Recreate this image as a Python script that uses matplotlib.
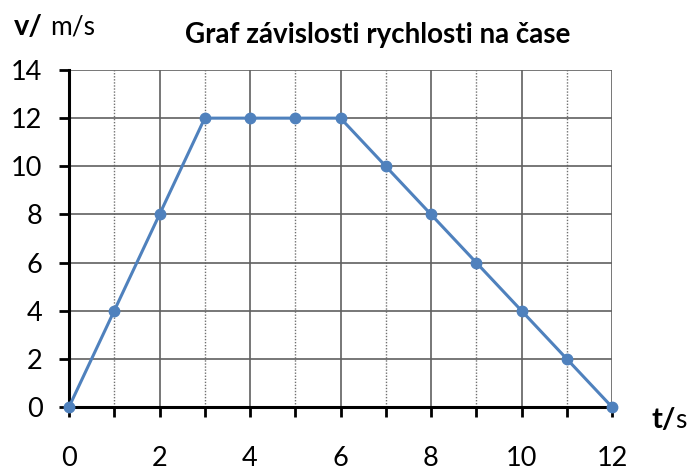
import matplotlib.pyplot as plt
from matplotlib.ticker import MultipleLocator

plt.rcParams["font.family"] = ["Lato", "DejaVu Sans"]

t = [0, 1, 2, 3, 4, 5, 6, 7, 8, 9, 10, 11, 12]
v = [0, 4, 8, 12, 12, 12, 12, 10, 8, 6, 4, 2, 0]

fig = plt.figure(figsize=(6.93, 4.72), dpi=100)
ax = fig.add_axes([69 / 693, 1 - 407 / 472, (612 - 69) / 693, (407 - 70) / 472])

# grid: solid for even t and every v-step, dotted for odd t
for x in range(1, 13):
    if x % 2 == 0:
        ax.axvline(x, color="#606060", lw=1.2, zorder=1)
    else:
        ax.axvline(x, color="#707070", lw=1.0, ls=(0, (1, 1.2)), zorder=1)
for y in range(2, 15, 2):
    ax.axhline(y, color="#606060", lw=1.2, zorder=1)

ax.plot(t, v, color="#4F81BD", lw=2.2, marker="o", markersize=7.5, clip_on=False, zorder=3)

ax.set_xlim(0, 12)
ax.set_ylim(0, 14)
ax.xaxis.set_major_locator(MultipleLocator(2))
ax.xaxis.set_minor_locator(MultipleLocator(1))
ax.yaxis.set_major_locator(MultipleLocator(2))

for s in ["top", "right"]:
    ax.spines[s].set_visible(False)
for s in ["left", "bottom"]:
    ax.spines[s].set_linewidth(2.2)
    ax.spines[s].set_zorder(2)

ax.tick_params(axis="both", which="major", length=7, width=2, labelsize=19.5, color="black")
ax.tick_params(axis="x", which="minor", length=7, width=2)
ax.tick_params(axis="x", pad=21)
ax.tick_params(axis="y", pad=12)

fig.text(378 / 693, 1 - 35 / 472, "Graf závislosti rychlosti na čase",
         ha="center", va="center", fontsize=20, fontweight="bold")
fig.text(14 / 693, 1 - 27 / 472, "v/", ha="left", va="center", fontsize=21, fontweight="bold")
fig.text(50 / 693, 1 - 27 / 472, "m/s", ha="left", va="center", fontsize=19)
fig.text(652 / 693, 1 - 420 / 472, "t/", ha="left", va="center", fontsize=21, fontweight="bold")
fig.text(675 / 693, 1 - 420 / 472, "s", ha="left", va="center", fontsize=19)

fig.savefig("out.png", dpi=100)
